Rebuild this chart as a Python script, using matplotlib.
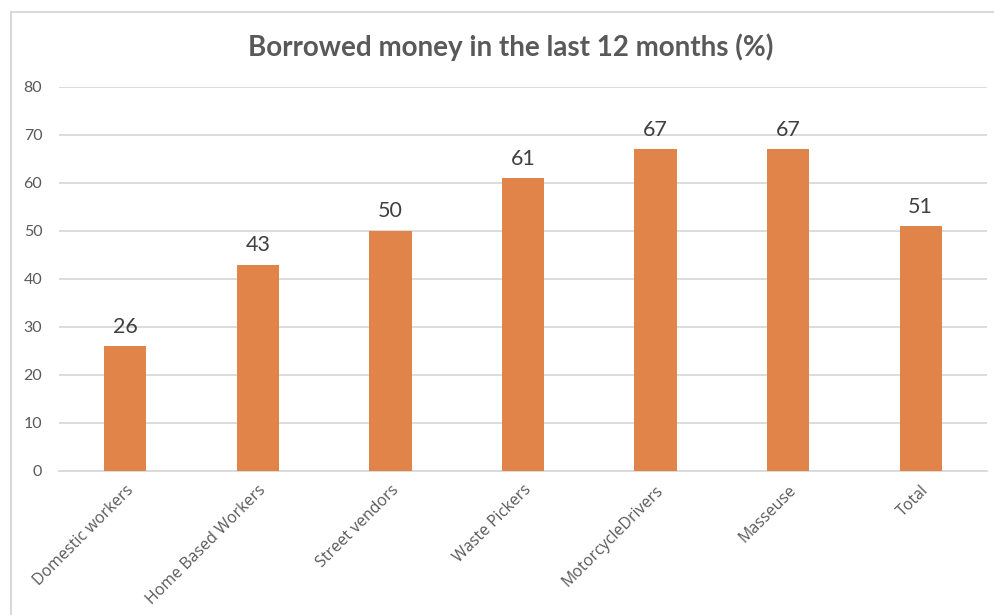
import matplotlib
matplotlib.use("Agg")
from matplotlib import pyplot as plt
from matplotlib.lines import Line2D

categories = ["Domestic workers", "Home Based Workers", "Street vendors",
              "Waste Pickers", "MotorcycleDrivers", "Masseuse", "Total"]
values = [26, 43, 50, 61, 67, 67, 51]
yticks = [0, 10, 20, 30, 40, 50, 60, 70, 80]

bar_color = "#E0844A"
text_color = "#595959"

fig = plt.figure(figsize=(9.95, 6.15), dpi=100)
ax = fig.add_axes([59 / 995, 144 / 615, 928 / 995, 384 / 615])

x = range(len(categories))
bars = ax.bar(x, values, width=0.32, color=bar_color, zorder=3)

# value labels above each bar
for b, v in zip(bars, values):
    ax.text(b.get_x() + b.get_width() / 2, v + 2.0, str(v),
            ha="center", va="bottom", fontsize=15.5, color="#404040",
            family="Lato")

ax.set_xlim(-0.5, len(categories) - 0.5)
ax.set_ylim(0, 80)
ax.set_yticks(yticks)
ax.set_yticklabels([str(t) for t in yticks], family="Lato", fontsize=11.5,
                   color=text_color)
ax.set_xticks(list(x))
ax.set_xticklabels(categories, rotation=45, ha="right", rotation_mode="anchor",
                   family="Open Sans", fontsize=11.5, color=text_color)
ax.tick_params(axis="both", length=0)
ax.tick_params(axis="y", pad=12)
ax.tick_params(axis="x", pad=8)
ax.grid(axis="y", color="#D9D9D9", linewidth=1.3, zorder=0)
for s in ["top", "right", "left"]:
    ax.spines[s].set_visible(False)
ax.spines["bottom"].set_color("#D9D9D9")
ax.spines["bottom"].set_linewidth(1.3)

fig.text(511 / 995, 1 - 47 / 615, "Borrowed money in the last 12 months (%)",
         ha="center", va="center", fontsize=20, fontweight="bold",
         color=text_color, family="Lato")

# light chart frame
fig.add_artist(Line2D([11 / 995, 11 / 995], [0, 1 - 12 / 615],
                      transform=fig.transFigure, color="#D9D9D9", linewidth=1.5))
fig.add_artist(Line2D([11 / 995, 1], [1 - 12 / 615, 1 - 12 / 615],
                      transform=fig.transFigure, color="#D9D9D9", linewidth=1.5))

fig.savefig("out.png", dpi=100, facecolor="white")
